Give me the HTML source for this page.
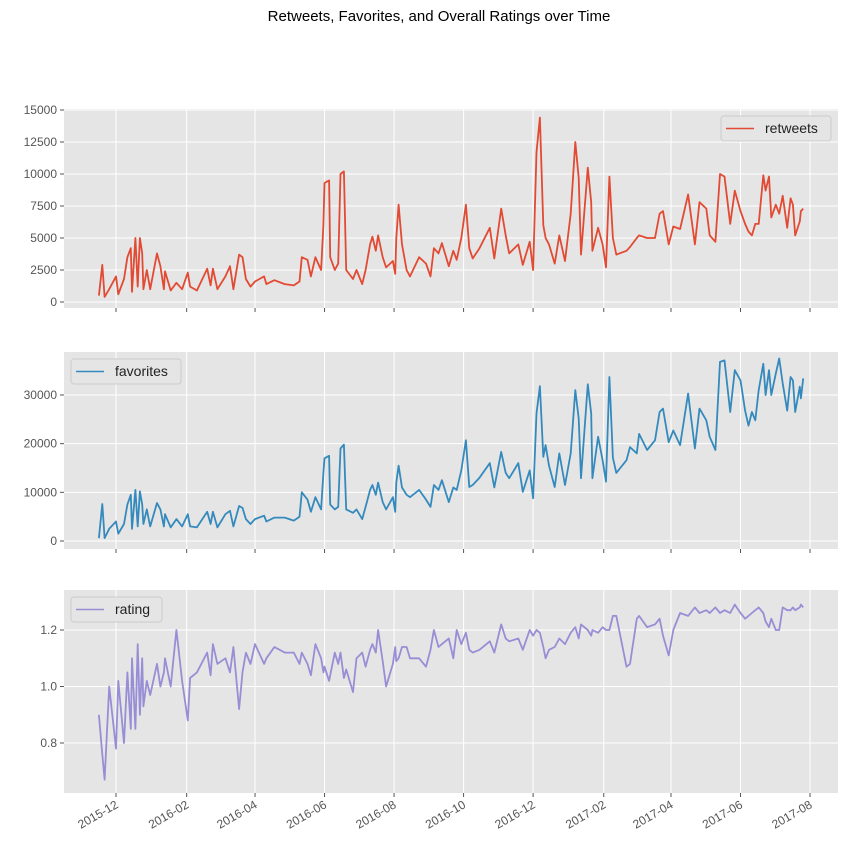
<!DOCTYPE html>
<html><head><meta charset="utf-8"><style>
body{margin:0;background:#fff;}
svg{display:block;font-family:"Liberation Sans","DejaVu Sans",sans-serif;}
</style></head><body>
<svg id="fig" width="852" height="850" viewBox="0 0 852 850" xmlns="http://www.w3.org/2000/svg">
<text x="439" y="21" text-anchor="middle" font-size="15" fill="#000">Retweets, Favorites, and Overall Ratings over Time</text>
</svg>
<script>
const dates = ["2015-11-16","2015-11-19","2015-11-21","2015-11-25","2015-12-01","2015-12-03","2015-12-08","2015-12-11","2015-12-14","2015-12-15","2015-12-18","2015-12-20","2015-12-22","2015-12-24","2015-12-25","2015-12-28","2015-12-31","2016-01-06","2016-01-09","2016-01-12","2016-01-13","2016-01-18","2016-01-23","2016-01-28","2016-02-02","2016-02-04","2016-02-10","2016-02-19","2016-02-22","2016-02-24","2016-02-28","2016-03-06","2016-03-10","2016-03-13","2016-03-18","2016-03-21","2016-03-24","2016-03-28","2016-04-01","2016-04-09","2016-04-11","2016-04-18","2016-04-27","2016-05-05","2016-05-10","2016-05-12","2016-05-17","2016-05-20","2016-05-24","2016-05-29","2016-05-31","2016-06-01","2016-06-05","2016-06-06","2016-06-10","2016-06-13","2016-06-15","2016-06-18","2016-06-20","2016-06-26","2016-06-29","2016-07-04","2016-07-07","2016-07-11","2016-07-13","2016-07-16","2016-07-18","2016-07-22","2016-07-25","2016-07-31","2016-08-02","2016-08-03","2016-08-05","2016-08-08","2016-08-12","2016-08-15","2016-08-23","2016-08-29","2016-09-02","2016-09-05","2016-09-09","2016-09-12","2016-09-18","2016-09-22","2016-09-25","2016-09-29",
"2016-10-03","2016-10-06","2016-10-09","2016-10-15","2016-10-24","2016-10-28","2016-11-03","2016-11-07","2016-11-10","2016-11-18","2016-11-22","2016-11-28","2016-12-01","2016-12-04","2016-12-07","2016-12-10","2016-12-12","2016-12-15","2016-12-20","2016-12-24","2016-12-29","2017-01-03","2017-01-07","2017-01-10","2017-01-12","2017-01-18","2017-01-21","2017-01-22","2017-01-27","2017-01-31","2017-02-03","2017-02-06","2017-02-09","2017-02-12","2017-02-21","2017-02-24","2017-03-02","2017-03-04","2017-03-11","2017-03-18","2017-03-22","2017-03-25","2017-03-30","2017-04-03","2017-04-09","2017-04-16","2017-04-22","2017-04-26","2017-05-02","2017-05-05","2017-05-10","2017-05-14","2017-05-18","2017-05-23","2017-05-27","2017-06-01","2017-06-05","2017-06-08","2017-06-11","2017-06-14","2017-06-17","2017-06-21","2017-06-23","2017-06-26","2017-06-28","2017-07-02","2017-07-05","2017-07-08","2017-07-12","2017-07-15","2017-07-17","2017-07-19","2017-07-23","2017-07-24","2017-07-26"];
const retweets = [500,2900,400,1000,2000,600,1800,3500,4200,800,5000,1200,5000,3800,1000,2500,1000,3800,2800,1000,2400,900,1500,1000,2300,1200,900,2600,1300,2600,1000,2000,2800,1000,3700,3500,1800,1200,1600,2000,1400,1700,1400,1300,1600,3500,3300,2000,3500,2500,6000,9300,9500,3500,2500,3000,10000,10200,2500,1800,2500,1400,2500,4500,5100,4000,5200,3500,2700,3200,2200,5000,7600,4500,2500,2000,3500,3000,2000,4200,3800,4600,2800,4000,3300,5000,
7600,4200,3400,4200,5800,3400,7300,5200,3800,4500,2900,4700,2500,11700,14400,6000,5000,4500,3000,5200,3200,6900,12500,9700,3700,10500,7800,4000,5800,4500,2700,9800,5000,3700,4000,4300,5000,5200,5000,5000,6900,7100,4500,5900,5700,8400,4500,7800,7300,5200,4700,10000,9800,6100,8700,7100,6100,5500,5200,6100,6100,9900,8700,9800,6600,7600,6900,8300,5800,8100,7600,5200,6300,7100,7300];
const favorites = [600,7600,600,2500,4000,1500,3500,7500,9500,2500,10500,3000,10200,7500,3500,6500,3000,7800,6500,3000,5500,2800,4500,3000,5500,3000,2800,6000,3500,6000,2800,5500,6200,3000,7200,6800,4500,3500,4500,5200,4000,4800,4800,4200,5000,10000,8500,6000,9000,6500,14000,17000,17500,7500,6500,7000,19000,19800,6500,5800,6500,4500,7000,10500,11500,9500,12000,8000,6500,9000,6000,12000,15500,11000,9500,9000,10500,8500,7000,11500,10500,12500,8000,11000,10500,14500,
20700,11100,11500,13000,16000,11000,18300,14000,12900,16000,10100,14500,8800,26200,31800,17300,19700,15500,11100,18000,11500,18000,31000,25200,12900,32200,26200,12900,21400,16600,12200,33700,17100,14000,16600,19300,18000,22000,18700,20700,26500,27200,20300,22700,19700,30300,19000,27200,24800,21400,18700,36800,37100,26500,35100,33000,26800,23700,26500,24800,31000,36400,30000,35100,30000,34400,37500,32400,26800,33700,33000,26500,31700,29300,33400];
const rating = [0.9,0.76,0.67,1.0,0.78,1.02,0.8,1.05,0.85,1.1,0.85,1.15,0.9,1.1,0.93,1.02,0.97,1.08,1.0,1.05,1.1,1.0,1.2,1.02,0.88,1.03,1.05,1.12,1.04,1.15,1.08,1.1,1.05,1.14,0.92,1.05,1.12,1.08,1.15,1.08,1.1,1.14,1.12,1.12,1.08,1.12,1.08,1.04,1.15,1.1,1.05,1.07,1.02,1.04,1.12,1.08,1.12,1.03,1.06,0.98,1.1,1.12,1.07,1.13,1.15,1.12,1.2,1.09,1.0,1.08,1.14,1.09,1.1,1.14,1.14,1.1,1.1,1.07,1.13,1.2,1.14,1.15,1.17,1.1,1.2,1.15,
1.19,1.13,1.12,1.13,1.16,1.12,1.22,1.17,1.16,1.17,1.13,1.2,1.18,1.2,1.19,1.14,1.1,1.13,1.14,1.17,1.15,1.19,1.21,1.17,1.22,1.2,1.18,1.2,1.19,1.21,1.2,1.2,1.25,1.25,1.07,1.08,1.24,1.25,1.21,1.22,1.24,1.18,1.11,1.2,1.26,1.25,1.28,1.26,1.27,1.26,1.28,1.26,1.27,1.26,1.29,1.26,1.24,1.25,1.26,1.27,1.28,1.26,1.23,1.21,1.24,1.2,1.2,1.28,1.27,1.27,1.28,1.27,1.28,1.29,1.28];
const xTickLabels = ["2015-12","2016-02","2016-04","2016-06","2016-08","2016-10","2016-12","2017-02","2017-04","2017-06","2017-08"];
const rtTicks = [0,2500,5000,7500,10000,12500,15000];
const favTicks = [0,10000,20000,30000];
const ratingTicks = [0.8,1.0,1.2];

const NS="http://www.w3.org/2000/svg";
const svg=document.getElementById('fig');
function mk(tag,attrs,parent){const e=document.createElementNS(NS,tag);for(const k in attrs)e.setAttribute(k,attrs[k]);(parent||svg).appendChild(e);return e;}
const X0=64,X1=838;
const t0=Date.UTC(2015,11,1);
function xDate(s){const p=s.split('-').map(Number);const t=Date.UTC(p[0],p[1]-1,p[2]||1);return 116+(t-t0)/86400000*1.1396;}
const panels=[
 {name:'retweets',top:109,bot:308,vals:retweets,ticks:rtTicks,y:v=>302-v*0.0128,color:'#E24A33',fmt:v=>String(v),legend:'right',lw:110},
 {name:'favorites',top:352,bot:549,vals:favorites,ticks:favTicks,y:v=>541-v*0.004867,color:'#348ABD',fmt:v=>String(v),legend:'left',lw:110},
 {name:'rating',top:590,bot:793,vals:rating,ticks:ratingTicks,y:v=>743-(v-0.8)*282.5,color:'#988ED5',fmt:v=>v.toFixed(1),legend:'left',lw:91}
];
panels.forEach((p,pi)=>{
 const g=mk('g',{});
 
 
 const bg=mk('rect',{x:X0,y:p.top,width:X1-X0,height:p.bot-p.top,fill:'#E5E5E5'},g);
 
 
 xTickLabels.forEach(l=>{const x=xDate(l);
  const gl=mk('line',{x1:x,x2:x,y1:p.top,y2:p.bot,stroke:'#fff','stroke-width':1},g);
  
  
  const tk=mk('line',{x1:x,x2:x,y1:p.bot,y2:p.bot+4,stroke:'#555','stroke-width':1},g);
  
  
  if(pi===2){const t=mk('text',{x:x+3,y:p.bot+14,'font-size':12,fill:'#555','text-anchor':'end',transform:`rotate(-30 ${x+3} ${p.bot+14})`},g);t.textContent=l;
   
   }
 });
 p.ticks.forEach(v=>{const y=p.y(v);
  const gl=mk('line',{x1:X0,x2:X1,y1:y,y2:y,stroke:'#fff','stroke-width':1},g);
  
  
  mk('line',{x1:X0-4,x2:X0,y1:y,y2:y,stroke:'#555'},g);
  const t=mk('text',{x:X0-7,y:y+4,'font-size':12,fill:'#555','text-anchor':'end'},g);t.textContent=p.fmt(v);
  
  
 });
 const d=p.vals.map((v,i)=>(i?'L':'M')+xDate(dates[i]).toFixed(1)+','+p.y(v).toFixed(1)).join('');
 const path=mk('path',{d:d,fill:'none',stroke:p.color,'stroke-width':1.8,'stroke-linejoin':'round'},g);
 
 
 const lx=p.legend==='right'?X1-7-p.lw:X0+7, ly=p.top+7;
 const lg=mk('g',{},g);
 
 
 mk('rect',{x:lx,y:ly,width:p.lw,height:25,rx:3,fill:'#E5E5E5',stroke:'#cccccc'},lg);
 mk('line',{x1:lx+5,x2:lx+33,y1:ly+12.5,y2:ly+12.5,stroke:p.color,'stroke-width':1.6},lg);
 const lt=mk('text',{x:lx+44,y:ly+17,'font-size':14,fill:'#222'},lg);lt.textContent=p.name;
});
</script>
</body></html>
